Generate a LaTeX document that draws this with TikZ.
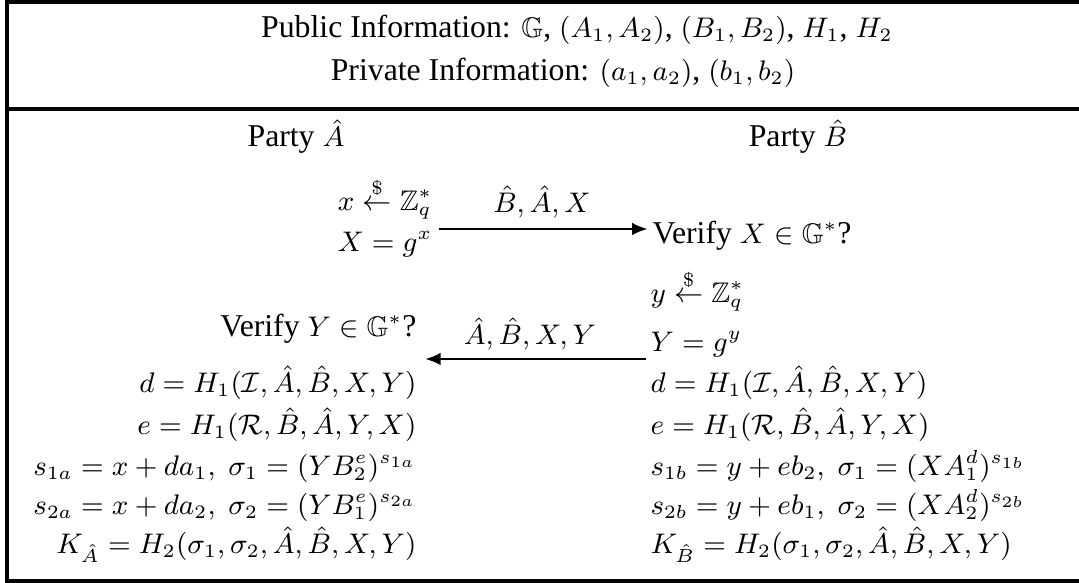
\documentclass[tikz,border=0pt]{standalone}
\usepackage{amsmath,amssymb}
\usepackage[no-math]{fontspec}
\setmainfont[Scale=1.12]{Liberation Serif}
\usetikzlibrary{arrows.meta}
\tikzset{
  lhs/.style={anchor=base east, inner sep=0pt},
  rhs/.style={anchor=base west, inner sep=0pt},
  ctr/.style={anchor=base, inner sep=0pt},
  frame/.style={line width=1pt, black},
  msg/.style={-{Latex[length=5pt,width=4pt]}, line width=0.9pt},
}

\begin{document}
\begin{tikzpicture}[x=0.3175pt, y=-0.3175pt, font=\fontsize{9}{11}\selectfont]
  \useasboundingbox (0,0) rectangle (1079,583);

  % frame of the table
  \draw[frame] (1079,2) -- (7,2) -- (7,581) -- (1079,581);
  \draw[frame] (7,109) -- (1079,109);

  % header
  \node[ctr] (pub) at (577,38) {Public Information: $\mathbb{G}$, $(A_1, A_2)$, $(B_1, B_2)$, $H_1$, $H_2$};
  \node[ctr] (priv) at (563,81) {Private Information: $(a_1, a_2)$, $(b_1, b_2)$};

  % parties
  \node[ctr] (pA) at (296,147) {Party $\hat{A}$};
  \node[ctr] (pB) at (798,147) {Party $\hat{B}$};

  % first message
  \node[lhs] (xgen) at (433,211) {$x \stackrel{\$}{\leftarrow} \mathbb{Z}_q^*$};
  \node[lhs] (xA) at (433,252) {$X = g^x$};
  \node[rhs] (vX) at (652,244) {Verify $X \in \mathbb{G}^*$?};
  \node[ctr] (m1lab) at (542,213) {$\hat{B}, \hat{A}, X$};
  \coordinate (m1) at (0,229);
  \draw[msg, shorten <=1.9pt, shorten >=1.3pt] (xA.east |- m1) -- (vX.west |- m1);

  % second message
  \node[rhs] (ygen) at (650,303) {$y \stackrel{\$}{\leftarrow} \mathbb{Z}_q^*$};
  \node[rhs] (yB) at (650,352) {$Y = g^y$};
  \node[lhs] (vY) at (417,337) {Verify $Y \in \mathbb{G}^*$?};
  \node[ctr] (m2lab) at (530,345) {$\hat{A}, \hat{B}, X, Y$};
  \coordinate (m2) at (0,359);
  \draw[msg, shorten <=1.3pt, shorten >=2.5pt] (yB.west |- m2) -- (vY.east |- m2);

  % key computation, party A
  \node[lhs] (dA) at (417,393) {$d = H_1(\mathcal{I}, \hat{A}, \hat{B}, X, Y)$};
  \node[lhs] (eA) at (417,435) {$e = H_1(\mathcal{R}, \hat{B}, \hat{A}, Y, X)$};
  \node[lhs] (s1A) at (417,476) {$s_{1a} = x + da_1,\ \sigma_1 = (YB_2^e)^{s_{1a}}$};
  \node[lhs] (s2A) at (417,515) {$s_{2a} = x + da_2,\ \sigma_2 = (YB_1^e)^{s_{2a}}$};
  \node[lhs] (kA) at (417,554) {$K_{\hat{A}} = H_2(\sigma_1, \sigma_2, \hat{A}, \hat{B}, X, Y)$};

  % key computation, party B
  \node[rhs] (dB) at (650,393) {$d = H_1(\mathcal{I}, \hat{A}, \hat{B}, X, Y)$};
  \node[rhs] (eB) at (650,435) {$e = H_1(\mathcal{R}, \hat{B}, \hat{A}, Y, X)$};
  \node[rhs] (s1B) at (650,476) {$s_{1b} = y + eb_2,\ \sigma_1 = (XA_1^d)^{s_{1b}}$};
  \node[rhs] (s2B) at (650,515) {$s_{2b} = y + eb_1,\ \sigma_2 = (XA_2^d)^{s_{2b}}$};
  \node[rhs] (kB) at (650,554) {$K_{\hat{B}} = H_2(\sigma_1, \sigma_2, \hat{A}, \hat{B}, X, Y)$};
\end{tikzpicture}
\end{document}
